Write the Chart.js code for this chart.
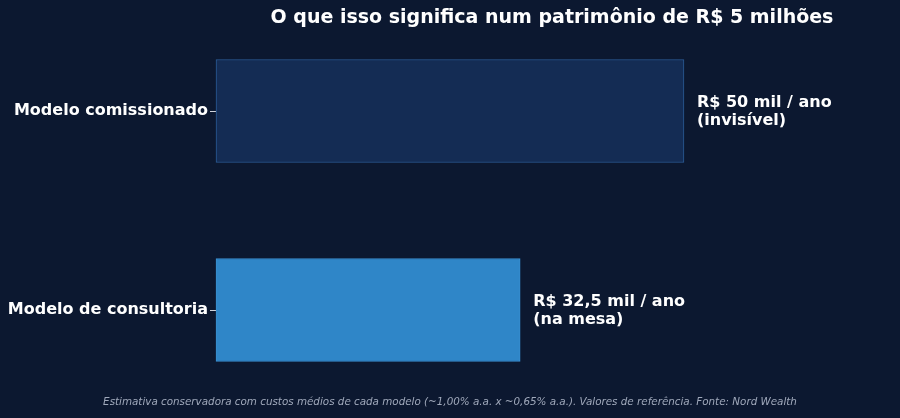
<!DOCTYPE html>
<html>
<head>
<meta charset="utf-8">
<script src="https://cdn.jsdelivr.net/npm/chart.js@4"></script>
<style>
  html, body { margin: 0; padding: 0; background: #0c1830; }
  #wrap { width: 900px; height: 418px; position: relative; }
</style>
</head>
<body>
<div id="wrap"><canvas id="myChart" width="900" height="418"></canvas></div>
<script>
const categories = ["Modelo comissionado", "Modelo de consultoria"];
const custoAnual = [50, 32.5];
const valueLabels = [["R$ 50 mil / ano", "(invisível)"], ["R$ 32,5 mil / ano", "(na mesa)"]];
const titleText = "O que isso significa num patrimônio de R$ 5 milhões";
const footText = "Estimativa conservadora com custos médios de cada modelo (~1,00% a.a. x ~0,65% a.a.). Valores de referência. Fonte: Nord Wealth";

const FONT = "'DejaVu Sans', sans-serif";

const textPlugin = {
  id: "textPlugin",
  beforeDraw(chart) {
    const ctx = chart.ctx;
    ctx.save();
    ctx.fillStyle = "#0c1830";
    ctx.fillRect(0, 0, chart.width, chart.height);
    ctx.restore();
  },
  afterDraw(chart) {
    const ctx = chart.ctx;
    const area = chart.chartArea;
    ctx.save();
    // title
    ctx.fillStyle = "#ffffff";
    ctx.font = "bold 19px " + FONT;
    ctx.textAlign = "center";
    ctx.textBaseline = "middle";
    ctx.fillText(titleText, (area.left + area.right) / 2, 18.5);
    // footnote
    ctx.fillStyle = "#a0a9bb";
    ctx.font = "italic 10.35px " + FONT;
    ctx.fillText(footText, 450, 402);
    // value labels
    ctx.fillStyle = "#ffffff";
    ctx.font = "bold 16px " + FONT;
    ctx.textAlign = "left";
    const meta = chart.getDatasetMeta(0);
    meta.data.forEach((bar, i) => {
      const lines = valueLabels[i];
      const x = bar.x + 13;
      lines.forEach((line, j) => {
        ctx.fillText(line, x, bar.y - 8 + j * 18);
      });
    });
    ctx.restore();
  }
};

const ctx = document.getElementById("myChart").getContext("2d");
const myChart = new Chart(ctx, {
  type: "bar",
  data: {
    labels: categories,
    datasets: [
      {
        data: custoAnual,
        backgroundColor: ["#142c54", "#2f86c8"],
        borderColor: ["#2b5b96", "#3a8fd0"],
        borderWidth: 1,
        borderSkipped: false,
        barThickness: 103,
        clip: false,
      },
    ],
  },
  options: {
    indexAxis: "y",
    responsive: false,
    animation: false,
    devicePixelRatio: 1,
    layout: { padding: { top: 111, bottom: 108, left: 0, right: 12 } },
    plugins: {
      legend: { display: false },
      tooltip: { enabled: false },
    },
    scales: {
      x: {
        display: false,
        min: 0,
        max: 71.8,
      },
      y: {
        offset: false,
        border: { display: false },
        grid: {
          offset: false,
          drawOnChartArea: false,
          drawTicks: true,
          tickLength: 6,
          color: "#d0d4dc",
        },
        ticks: {
          color: "#ffffff",
          padding: 2,
          font: { family: FONT, weight: "bold", size: 16 },
        },
        afterFit(scale) {
          scale.width = 216;
        },
      },
    },
  },
  plugins: [textPlugin],
});
</script>
</body>
</html>
